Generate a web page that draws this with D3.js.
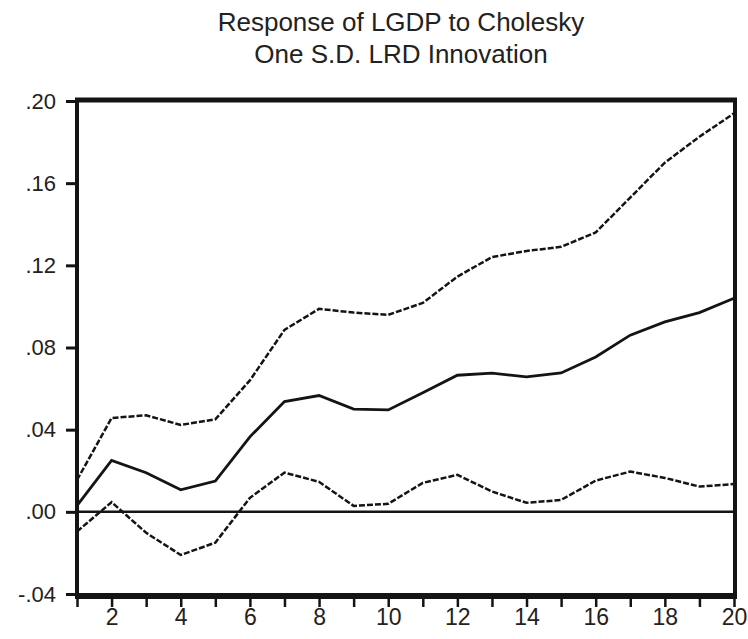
<!DOCTYPE html>
<html>
<head>
<meta charset="utf-8">
<script src="https://cdn.jsdelivr.net/npm/d3@7"></script>
<style>
  body { margin: 0; background: #fff; }
  svg { display: block; font-family: Arial, "Liberation Sans", sans-serif; }
</style>
</head>
<body>
<div id="chart"></div>
<script>
// periods 1..20
var periods = d3.range(1, 21);

// impulse response (solid) and +/- 2 S.E. bands (dashed)
var response = [0.003, 0.025, 0.019, 0.0107, 0.015, 0.0365, 0.0537, 0.0566, 0.050, 0.0496,
  0.058, 0.0665, 0.0675, 0.0657, 0.0676, 0.0754, 0.086, 0.0925, 0.097, 0.104];
var upper = [0.0155, 0.0457, 0.047, 0.0423, 0.045, 0.064, 0.0886, 0.0988, 0.097, 0.0959,
  0.1017, 0.1145, 0.124, 0.127, 0.129, 0.136, 0.153, 0.170, 0.1826, 0.194];
var lower = [-0.0096, 0.0047, -0.0102, -0.021, -0.015, 0.0068, 0.0191, 0.0146, 0.0029, 0.0039,
  0.0141, 0.018, 0.0099, 0.0044, 0.0058, 0.0152, 0.0196, 0.0165, 0.0123, 0.0135];

var yTicks = [-0.04, 0.00, 0.04, 0.08, 0.12, 0.16, 0.20];
var xLabels = [2, 4, 6, 8, 10, 12, 14, 16, 18, 20];
var titleLines = ['Response of LGDP to Cholesky', 'One S.D. LRD Innovation'];

(function() {
  var w = 748, h = 639;
  var ink = '#141414';
  var font = 'Arial, "Liberation Sans", sans-serif';

  var svg = d3.select('#chart').append('svg')
    .attr('width', w)
    .attr('height', h);

  var x = d3.scaleLinear().domain([1, 20]).range([77, 734]);
  var y = d3.scaleLinear().domain([-0.04, 0.20]).range([594, 101]);

  // title
  svg.selectAll('text.title')
    .data(titleLines)
    .enter().append('text')
    .attr('class', 'title')
    .attr('x', 401)
    .attr('y', function(d, i) { return 31 + i * 32; })
    .attr('text-anchor', 'middle')
    .attr('font-size', 26)
    .attr('fill', '#222')
    .text(function(d) { return d; });

  // y axis ticks and labels
  var yAxis = d3.axisLeft(y)
    .tickValues(yTicks)
    .tickSize(11)
    .tickPadding(10)
    .tickFormat(function(d) { return d3.format('.2f')(d).replace('0.', '.').replace('\u2212', '-'); });

  var gy = svg.append('g')
    .attr('transform', 'translate(' + x(1) + ',0)')
    .call(yAxis);
  gy.select('.domain').remove();
  gy.selectAll('line').attr('stroke', ink).attr('stroke-width', 3);
  gy.selectAll('text').attr('font-size', 22).attr('fill', '#222').attr('font-family', font);

  // x axis ticks at every period, labels at even periods
  var xAxis = d3.axisBottom(x)
    .tickValues(periods)
    .tickSize(9)
    .tickPadding(2)
    .tickFormat(function(d) { return xLabels.indexOf(d) >= 0 ? d : ''; });

  var gx = svg.append('g')
    .attr('transform', 'translate(0,' + 598 + ')')
    .call(xAxis);
  gx.select('.domain').remove();
  gx.selectAll('line').attr('stroke', ink).attr('stroke-width', 2.5);
  gx.selectAll('text').attr('font-size', 23).attr('fill', '#222').attr('font-family', font);

  // zero line
  svg.append('line')
    .attr('x1', x(1)).attr('x2', x(20))
    .attr('y1', y(0)).attr('y2', y(0))
    .attr('stroke', ink)
    .attr('stroke-width', 2.5);

  var line = d3.line()
    .x(function(d, i) { return x(periods[i]); })
    .y(function(d) { return y(d); });

  // bands
  [upper, lower].forEach(function(series) {
    svg.append('path')
      .datum(series)
      .attr('d', line)
      .attr('fill', 'none')
      .attr('stroke', ink)
      .attr('stroke-width', 2.5)
      .attr('stroke-dasharray', '6,2');
  });

  // response
  svg.append('path')
    .datum(response)
    .attr('d', line)
    .attr('fill', 'none')
    .attr('stroke', ink)
    .attr('stroke-width', 2.8);

  // frame
  var fl = x(1), fr = x(20) + 1, ft = y(0.20) - 1, fb = y(-0.04) + 2;
  var frame = svg.append('g').attr('stroke', ink);
  frame.append('line').attr('x1', fl - 2).attr('x2', fr + 2).attr('y1', ft).attr('y2', ft)
    .attr('stroke-width', 5);
  frame.append('line').attr('x1', fl - 2).attr('x2', fr + 2).attr('y1', fb).attr('y2', fb)
    .attr('stroke-width', 6);
  frame.append('line').attr('x1', fl).attr('x2', fl).attr('y1', ft).attr('y2', fb)
    .attr('stroke-width', 4);
  frame.append('line').attr('x1', fr).attr('x2', fr).attr('y1', ft).attr('y2', fb)
    .attr('stroke-width', 4);
})();
</script>
</body>
</html>
